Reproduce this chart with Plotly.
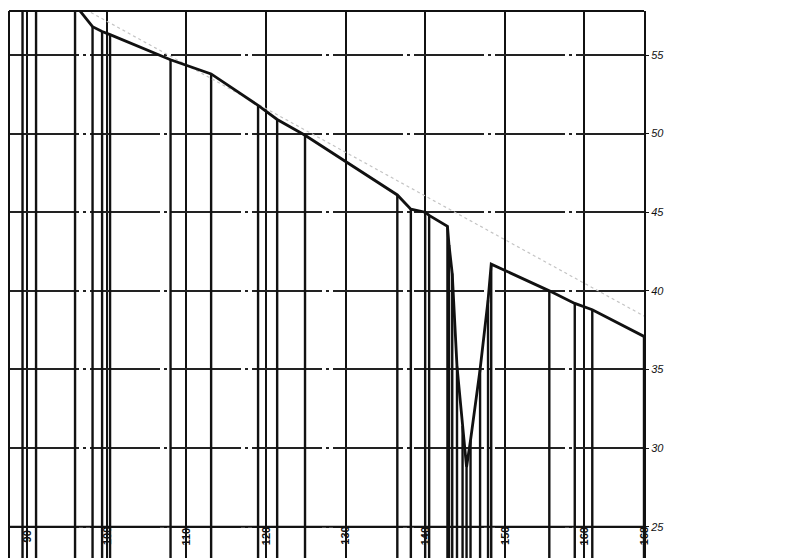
import plotly.graph_objects as go

# profile vertices
x_vals = [89.4, 91.1, 96.0, 98.2, 99.4, 100.4, 108.0, 113.1, 119.0, 121.4, 124.9,
          136.5, 138.2, 140.0, 140.5, 142.8, 143.0, 143.4, 144.0, 144.7, 145.2,
          145.7, 146.9, 147.9, 148.3, 155.6, 158.8, 161.0, 167.5]
y_vals = [61.0, 60.0, 58.2, 56.8, 56.5, 56.3, 54.7, 53.8, 51.8, 50.9, 49.9,
          46.1, 45.2, 45.0, 44.8, 44.1, 42.9, 41.1, 35.2, 31.4, 28.8,
          30.5, 35.0, 39.4, 41.7, 40.0, 39.2, 38.8, 37.1]

# faint straight reference line
trend_x = [98.0, 167.5]
trend_y = [57.7, 38.4]

# axes
x_ticks = [90, 100, 110, 120, 130, 140, 150, 160]
x_tick_labels = ["90", "100", "110", "120", "130", "140", "150", "160"]
x_end = 167.5
x_end_label = "168"
y_ticks = [25, 30, 35, 40, 45, 50, 55]

X_MIN, X_MAX = 87.7, 167.5
Y_MIN, Y_MAX = 22.5, 57.8

fig = go.Figure()

# drop lines from every vertex down to the bottom
dx, dy = [], []
for xv, yv in zip(x_vals, y_vals):
    dx += [xv, xv, None]
    dy += [yv, Y_MIN, None]
fig.add_trace(go.Scatter(x=dx, y=dy, mode="lines",
                         line=dict(color="#111", width=2.4),
                         hoverinfo="skip", showlegend=False))

fig.add_trace(go.Scatter(x=trend_x, y=trend_y, mode="lines",
                         line=dict(color="#c4c4c4", width=1.2, dash="dot"),
                         showlegend=False))

fig.add_trace(go.Scatter(x=x_vals, y=y_vals, mode="lines",
                         line=dict(color="#111", width=2.8),
                         showlegend=False))

# bottom rotated labels
for xv, lab in list(zip(x_ticks, x_tick_labels)) + [(x_end, x_end_label)]:
    fig.add_annotation(x=xv, y=24.4, text="<b>" + lab + "</b>", textangle=-90,
                       showarrow=False, xanchor="center", yanchor="middle",
                       font=dict(family="Liberation Sans", size=11, color="#111"),
                       bgcolor="rgba(255,255,255,0)")

# top border, left border, baseline at 25
fig.add_shape(type="line", xref="paper", yref="paper", x0=0, x1=1, y0=1, y1=1,
              line=dict(color="#111", width=2))
fig.add_shape(type="line", xref="paper", yref="paper", x0=0, x1=0, y0=0, y1=1,
              line=dict(color="#111", width=2))
fig.add_shape(type="line", xref="paper", yref="y", x0=0, x1=1, y0=25, y1=25,
              line=dict(color="#111", width=2))

fig.update_layout(
    width=789, height=558,
    margin=dict(l=1, r=153, t=3, b=0),
    paper_bgcolor="white", plot_bgcolor="white",
    showlegend=False,
    xaxis=dict(range=[X_MIN, X_MAX], tickvals=x_ticks, showticklabels=False,
               showgrid=True, gridcolor="#111", gridwidth=2.2,
               zeroline=False, showline=False, ticks=""),
    yaxis=dict(range=[Y_MIN, Y_MAX], tickvals=y_ticks, side="right",
               showgrid=True, gridcolor="#222", gridwidth=1.6,
               griddash="70px,4px,3px,4px",
               zeroline=False, showline=True, linecolor="#111", linewidth=2,
               ticks="outside", ticklen=3, tickcolor="#111",
               tickfont=dict(family="Liberation Sans", size=11, color="#111",
                             style="italic")),
)

fig.write_html("out.html")
